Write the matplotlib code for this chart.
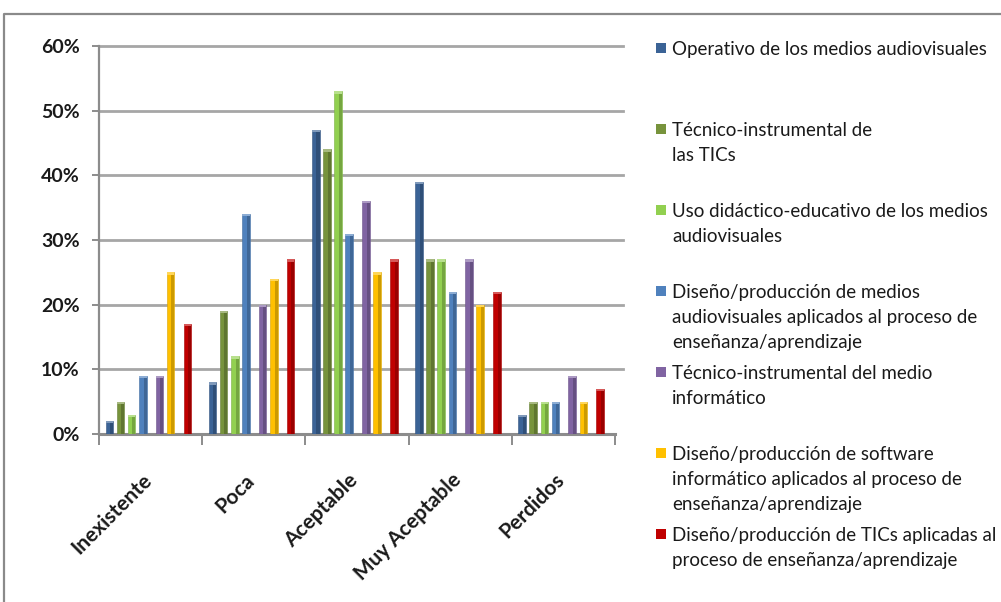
import matplotlib
matplotlib.use("Agg")
import matplotlib.pyplot as plt
import matplotlib.colors as mcolors
from matplotlib import transforms
from matplotlib.lines import Line2D
from matplotlib.patches import Rectangle
import numpy as np

plt.rcParams['font.family'] = ['Lato', 'DejaVu Sans']

categories = ["Inexistente", "Poca", "Aceptable", "Muy Aceptable", "Perdidos"]

series_labels = [
    "Operativo de los medios audiovisuales",
    "Técnico-instrumental de\nlas TICs",
    "Uso didáctico-educativo de los medios\naudiovisuales",
    "Diseño/producción de medios\naudiovisuales aplicados al proceso de\nenseñanza/aprendizaje",
    "Técnico-instrumental del medio\ninformático",
    "Diseño/producción de software\ninformático aplicados al proceso de\nenseñanza/aprendizaje",
    "Diseño/producción de TICs aplicadas al\nproceso de enseñanza/aprendizaje",
]

# percentages per series, one value per category
operativo = [2, 8, 47, 39, 3]
tecnico_tics = [5, 19, 44, 27, 5]
uso_didactico = [3, 12, 53, 27, 5]
diseno_medios = [9, 34, 31, 22, 5]
tecnico_informatico = [9, 20, 36, 27, 9]
diseno_software = [25, 24, 25, 20, 5]
diseno_tics = [17, 27, 27, 22, 7]

series_values = [operativo, tecnico_tics, uso_didactico, diseno_medios,
                 tecnico_informatico, diseno_software, diseno_tics]

colors = ["#3b6396", "#77933c", "#92d050", "#4f81bd", "#8064a2", "#ffc000", "#c00000"]

y_ticks = [0, 10, 20, 30, 40, 50, 60]
y_ticklabels = ["0%", "10%", "20%", "30%", "40%", "50%", "60%"]

W, H = 1001, 602
fig = plt.figure(figsize=(W / 100, H / 100), dpi=100)

# plot area in pixel units
ax_left, ax_right, ax_top, ax_bottom = 99, 615, 46, 434
ax = fig.add_axes([ax_left / W, (H - ax_bottom) / H,
                   (ax_right - ax_left) / W, (ax_bottom - ax_top) / H])

grid_col = "#a6a6a6"
for t in y_ticks[1:]:
    ax.plot([0, 1.015], [t, t], transform=ax.get_yaxis_transform(),
            color=grid_col, lw=2.0, zorder=0, clip_on=False)

# column slots inside each category group (Excel-like uneven spacing)
slot_idx = np.array([0, 2, 4, 6, 9, 11, 14])
slot_step = 0.054
slot_start = -0.40
bar_w = 0.074
x = np.arange(len(categories))


def shade(c, f):
    r, g, b = mcolors.to_rgb(c)
    return (r * f, g * f, b * f)


def tint(c, f):
    r, g, b = mcolors.to_rgb(c)
    return (r + (1 - r) * f, g + (1 - g) * f, b + (1 - b) * f)


for i, (vals, col) in enumerate(zip(series_values, colors)):
    pos = x + slot_start + slot_step * slot_idx[i]
    ax.bar(pos, vals, width=bar_w, color=col, edgecolor=shade(col, 0.85),
           linewidth=0.4, zorder=3)
    # darker right face of each column
    ax.bar(pos + bar_w * 0.3, vals, width=bar_w * 0.4, color=shade(col, 0.8),
           linewidth=0, zorder=4)
    # light top edge
    ax.bar(pos, [0.35] * len(vals), bottom=[v - 0.35 for v in vals],
           width=bar_w, color=tint(col, 0.35), linewidth=0, zorder=5)

ax.set_xlim(-0.5, len(categories) - 0.5)
ax.set_ylim(0, 60)

for s in ["top", "right"]:
    ax.spines[s].set_visible(False)
ax.spines["left"].set_color("#8c8c8c")
ax.spines["left"].set_linewidth(1.6)
ax.spines["bottom"].set_color("#8c8c8c")
ax.spines["bottom"].set_linewidth(2.2)

ax.set_yticks(y_ticks)
ax.set_yticklabels(y_ticklabels, fontsize=14, fontweight="bold", color="#1a1a1a")
ax.tick_params(axis="y", length=5, width=1.4, color="#8c8c8c", pad=9)

# tick marks on category boundaries, labels drawn separately
ax.set_xticks(np.arange(len(categories) + 1) - 0.5)
ax.set_xticklabels([])
ax.tick_params(axis="x", length=8, width=1.4, color="#8c8c8c", direction="out")

label_tf = transforms.offset_copy(ax.transData, fig=fig, x=0, y=-36, units="dots")
for i, cat in enumerate(categories):
    ax.text(i - 0.09, 0, cat, transform=label_tf, rotation=45, rotation_mode="anchor",
            ha="right", va="top", fontsize=15, fontweight="bold",
            color="#1a1a1a", clip_on=False)

# legend on the right, entries top-aligned on a fixed pitch
leg_x_box, leg_x_text = 656, 672
leg_first, leg_pitch, line_pitch = 48, 81.0, 25.2
for k, (lab, col) in enumerate(zip(series_labels, colors)):
    yc = leg_first + leg_pitch * k
    fig.patches.append(Rectangle((leg_x_box / W, 1 - (yc + 5) / H), 10 / W, 10 / H,
                                 transform=fig.transFigure, facecolor=col,
                                 edgecolor="none"))
    for j, line in enumerate(lab.split("\n")):
        fig.text(leg_x_text / W, 1 - (yc + line_pitch * j) / H, line,
                 fontsize=13.5, va="center_baseline", ha="left", color="#1a1a1a")

# outer frame of the chart area
fig.lines.append(Line2D([4 / W, 4 / W, 1.0], [0.0, 1 - 14 / H, 1 - 14 / H],
                        transform=fig.transFigure, color="#8a8a8a", lw=1.6))

fig.savefig("out.png", dpi=100)
